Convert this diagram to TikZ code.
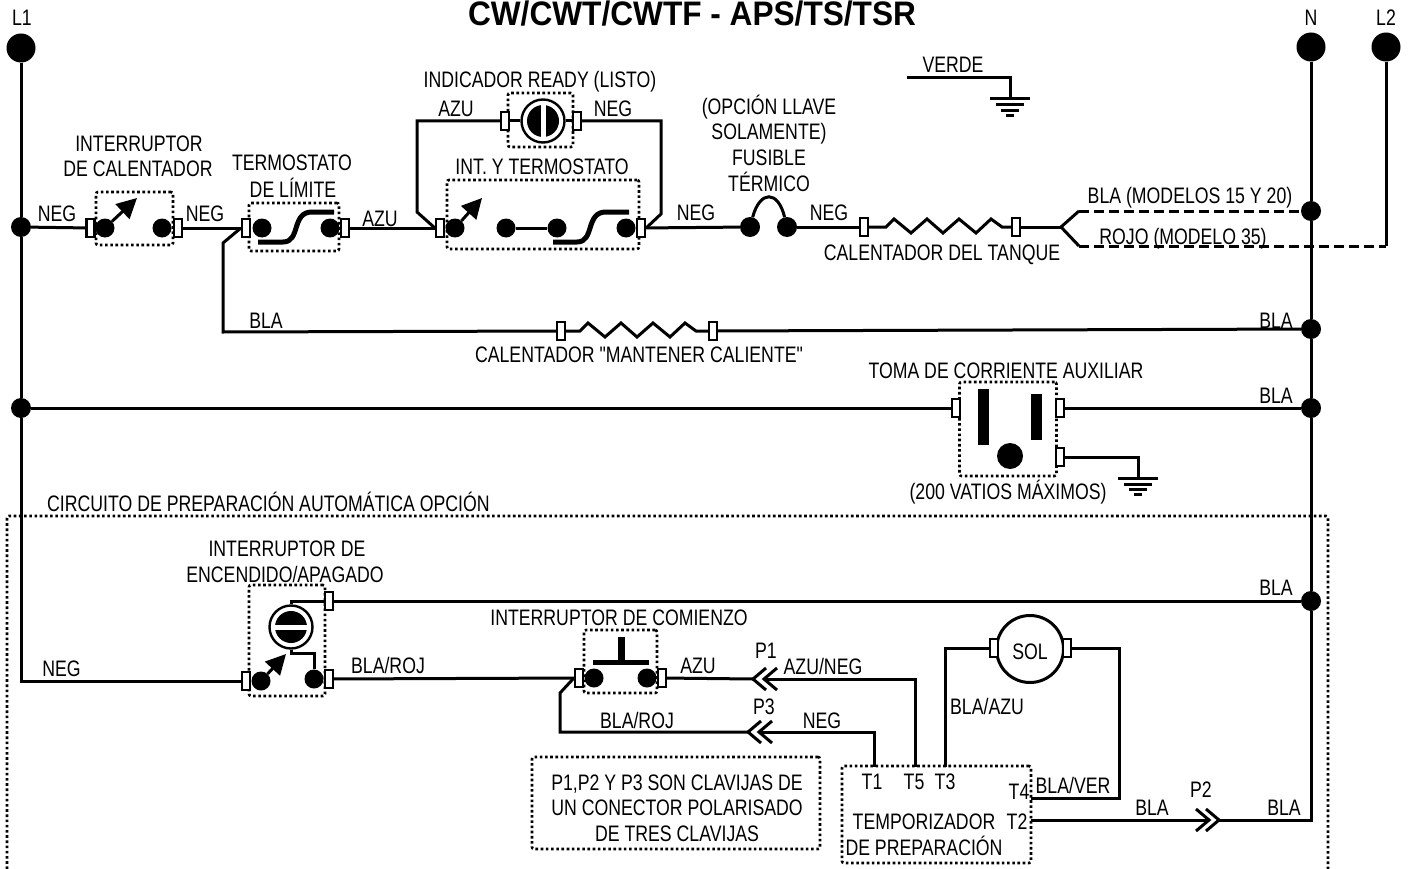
\documentclass[tikz,border=0pt]{standalone}
\usepackage{fontspec}
\newfontfamily\narrowfont{Liberation Sans}[FakeStretch=0.79]
\newfontfamily\titlefont{Liberation Sans}[FakeStretch=0.93]
\usetikzlibrary{arrows.meta}
\begin{document}
\begin{tikzpicture}[x=1pt,y=-1pt]
\tikzstyle{stream}=[inner sep=0pt,anchor=base,font=\narrowfont\fontsize{22.4}{25}\selectfont]
\tikzstyle{headline}=[inner sep=0pt,anchor=base,font=\titlefont\fontsize{34}{36}\selectfont\bfseries]
\tikzstyle{recti}=[rectangle,draw,line width=2.6pt,dash pattern=on 2.6pt off 2.6pt,rounded corners=2pt,inner sep=0pt]
\tikzstyle{wire}=[line width=3pt]
\tikzstyle{broken}=[line width=3pt,dash pattern=on 10pt off 5pt]
\tikzstyle{plug}=[line width=3pt]
\tikzstyle{thermo}=[line width=5pt]
\tikzstyle{dial}=[line width=3pt,-{Triangle[length=20pt,width=20pt]}]
\tikzstyle{railend}=[circle,fill=black,inner sep=0pt,minimum size=29]
\tikzstyle{busdot}=[circle,fill=black,inner sep=0pt,minimum size=20]
\tikzstyle{contact}=[circle,fill=black,inner sep=0pt,minimum size=19]
\tikzstyle{term}=[rectangle,draw,fill=white,line width=2.2pt,inner sep=0pt,minimum width=8,minimum height=18]
\tikzstyle{lamp}=[circle,draw,fill=white,line width=2.4pt,inner sep=0pt,minimum size=43]
\tikzstyle{coil}=[circle,draw,fill=white,line width=3pt,inner sep=0pt,minimum size=67]
\useasboundingbox (0,0) rectangle (1412,869);

\node [headline] (title) at (692,25.5) {CW/CWT/CWTF - APS/TS/TSR};
\node [stream] (labelLone) at (22,26) {L1};
\node [stream] (labelN) at (1311,26) {N};
\node [stream] (labelLtwo) at (1386,26) {L2};
\node [stream] (verde) at (953,73) {VERDE};
\node [stream] (negA) at (57,221) {NEG};
\node [stream] (negB) at (205,221) {NEG};
\node [stream] (azuA) at (380,226) {AZU};
\node [stream] (heatA) at (139,152) {INTERRUPTOR};
\node [stream] (heatB) at (138,177) {DE CALENTADOR};
\node [stream] (limitA) at (292,171) {TERMOSTATO};
\node [stream] (limitB) at (293,197) {DE LÍMITE};
\node [stream] (ready) at (540,88) {INDICADOR READY (LISTO)};
\node [stream] (azuB) at (456,117) {AZU};
\node [stream] (negC) at (613,117) {NEG};
\node [stream] (intT) at (542,175) {INT. Y TERMOSTATO};
\node [stream] (fuseA) at (769,115) {(OPCIÓN LLAVE};
\node [stream] (fuseB) at (769,140) {SOLAMENTE)};
\node [stream] (fuseC) at (769,166) {FUSIBLE};
\node [stream] (fuseD) at (769,191) {TÉRMICO};
\node [stream] (negD) at (696,220) {NEG};
\node [stream] (negE) at (829,220) {NEG};
\node [stream] (tank) at (942,260) {CALENTADOR DEL TANQUE};
\node [stream] (modelA) at (1190,204) {BLA (MODELOS 15 Y 20)};
\node [stream] (modelB) at (1183,244) {ROJO (MODELO 35)};
\node [stream] (blaA) at (266,328) {BLA};
\node [stream] (blaB) at (1276,328) {BLA};
\node [stream] (keep) at (639,362) {CALENTADOR "MANTENER CALIENTE"};
\node [stream] (toma) at (1006,378) {TOMA DE CORRIENTE AUXILIAR};
\node [stream] (blaC) at (1276,403) {BLA};
\node [stream] (vatios) at (1008,499) {(200 VATIOS MÁXIMOS)};
\node [stream,anchor=base west] (circuit) at (47,511) {CIRCUITO DE PREPARACIÓN AUTOMÁTICA OPCIÓN};
\node [stream] (onA) at (287,556) {INTERRUPTOR DE};
\node [stream] (onB) at (285,582) {ENCENDIDO/APAGADO};
\node [stream] (blaD) at (1276,595) {BLA};
\node [stream] (negF) at (61.5,676) {NEG};
\node [stream] (blaRojA) at (388,673) {BLA/ROJ};
\node [stream] (startA) at (619,625) {INTERRUPTOR DE COMIENZO};
\node [stream] (azuC) at (698,673) {AZU};
\node [stream] (pOneL) at (766,658) {P1};
\node [stream] (azuNeg) at (823,674) {AZU/NEG};
\node [stream] (blaRojB) at (637,728) {BLA/ROJ};
\node [stream] (pThreeL) at (764,714) {P3};
\node [stream] (negG) at (822,728) {NEG};
\node [stream] (blaAzu) at (987,714) {BLA/AZU};
\node [stream] (noteA) at (677,790) {P1,P2 Y P3 SON CLAVIJAS DE};
\node [stream] (noteB) at (677,815) {UN CONECTOR POLARISADO};
\node [stream] (noteC) at (677,841) {DE TRES CLAVIJAS};
\node [stream] (tOneL) at (872,789) {T1};
\node [stream] (tFiveL) at (914,789) {T5};
\node [stream] (tThreeL) at (945,789) {T3};
\node [stream] (tFourL) at (1019,799) {T4};
\node [stream] (tTwoL) at (1017,829) {T2};
\node [stream] (timerA) at (924,829) {TEMPORIZADOR};
\node [stream] (timerB) at (924,855) {DE PREPARACIÓN};
\node [stream] (blaVer) at (1073,793) {BLA/VER};
\node [stream] (blaE) at (1152,815) {BLA};
\node [stream] (pTwoL) at (1201,797) {P2};
\node [stream] (blaF) at (1284,815) {BLA};

\draw [recti] (7,869) -- (7,516) -- (1328,516) -- (1328,869);
\node [recti,minimum width=77,minimum height=53] (boxHeat) at (134.5,218.5) {};
\node [recti,minimum width=90,minimum height=48] (boxLimit) at (294,227) {};
\node [recti,minimum width=65,minimum height=54] (boxReady) at (540.5,120) {};
\node [recti,minimum width=192,minimum height=69] (boxInt) at (543,214.5) {};
\node [recti,minimum width=97,minimum height=94] (boxToma) at (1008,429) {};
\node [recti,minimum width=76,minimum height=111] (boxOn) at (287,640.5) {};
\node [recti,minimum width=73,minimum height=63] (boxStart) at (620.5,661.5) {};
\node [recti,minimum width=288,minimum height=92] (boxNote) at (676,803) {};
\node [recti,minimum width=189,minimum height=97] (boxTimer) at (936.5,814.5) {};

\node [railend] (railLone) at (21,48) {};
\node [railend] (railN) at (1311,47) {};
\node [railend] (railLtwo) at (1386,47) {};
\node [busdot] (dotLoneA) at (21,227) {};
\node [busdot] (dotLoneB) at (21,408) {};
\node [busdot] (dotNa) at (1311,211) {};
\node [busdot] (dotNb) at (1311,329) {};
\node [busdot] (dotNc) at (1311,408) {};
\node [busdot] (dotNd) at (1311,601) {};

\node [contact] (conHeatL) at (105,228) {};
\node [contact] (conHeatR) at (162,228) {};
\node [contact] (conLimitL) at (262,228) {};
\node [contact] (conLimitR) at (330,228) {};
\node [contact] (conIntA) at (455,228) {};
\node [contact] (conIntB) at (506,228) {};
\node [contact] (conIntC) at (557,228) {};
\node [contact] (conIntD) at (626,228) {};
\node [busdot] (conFuseL) at (750,227) {};
\node [busdot] (conFuseR) at (787,227) {};
\node [contact] (conOnL) at (261,681) {};
\node [contact] (conOnR) at (314,679) {};
\node [contact] (conStartL) at (594,678) {};
\node [contact] (conStartR) at (647,678) {};

\node [term] (termHeatL) at (90.5,228) {};
\node [term] (termHeatR) at (178,228) {};
\node [term] (termLimitL) at (246,228) {};
\node [term] (termLimitR) at (345,228) {};
\node [term] (termIntL) at (440,228) {};
\node [term] (termIntR) at (641,228) {};
\node [term] (termReadyL) at (505,121) {};
\node [term] (termReadyR) at (577,121) {};
\node [term] (termTankL) at (864,227) {};
\node [term] (termTankR) at (1016,227) {};
\node [term] (termKeepL) at (561,331) {};
\node [term] (termKeepR) at (713,331) {};
\node [term] (termTomaL) at (956,408) {};
\node [term] (termTomaR) at (1060,408) {};
\node [term] (termTomaG) at (1060,457) {};
\node [term] (termOnT) at (329,601) {};
\node [term] (termOnL) at (246,681) {};
\node [term] (termOnR) at (329,679) {};
\node [term] (termStartL) at (579,678) {};
\node [term] (termStartR) at (662,678) {};
\node [lamp] (lampReady) at (543,121) {};
\node [lamp] (lampOn) at (291,627) {};
\node [coil] (solenoid) at (1030,649) {};
\node [stream] (solLabel) at (1030,659) {SOL};
\node [term] (termSolL) at (994,648) {};
\node [term] (termSolR) at (1067,648) {};

\coordinate (tipHeat) at (137,198);
\coordinate (tipInt) at (482,198);
\coordinate (tipOn) at (286,654);
\coordinate (branchA) at (223,243);
\coordinate (branchB) at (223,332);
\coordinate (readyA) at (417,121);
\coordinate (readyB) at (417,212);
\coordinate (readyC) at (661,121);
\coordinate (readyD) at (661,214);
\coordinate (forkO) at (1061,227);
\coordinate (forkA) at (1079,211);
\coordinate (forkB) at (1079,246);
\coordinate (cornerLtwo) at (1386,246);
\coordinate (greenA) at (907,78);
\coordinate (greenB) at (1010,78);
\coordinate (greenC) at (1010,99);
\coordinate (earthA) at (1138,457);
\coordinate (earthB) at (1138,478);
\coordinate (cornerNeg) at (21,681);
\coordinate (startA) at (560,693);
\coordinate (startB) at (560,732);
\coordinate (pOne) at (753,679);
\coordinate (pOneB) at (764,679);
\coordinate (pThree) at (748,732);
\coordinate (pThreeB) at (759,732);
\coordinate (pTwo) at (1209,820);
\coordinate (pTwoB) at (1219,820);
\coordinate (tFiveA) at (915,679);
\coordinate (tFiveB) at (915,767);
\coordinate (tOneA) at (874,732);
\coordinate (tOneB) at (874,767);
\coordinate (tThreeA) at (945,648);
\coordinate (tThreeB) at (945,767);
\coordinate (tFourA) at (1031,798);
\coordinate (tFourB) at (1119,798);
\coordinate (tFourC) at (1119,648);
\coordinate (tTwoA) at (1031,820);
\coordinate (cornerN) at (1311,820);

\draw [wire] (railLone) -- (dotLoneA) -- (dotLoneB) -- (cornerNeg) -- (termOnL);
\draw [wire] (railN) -- (dotNa) -- (dotNb) -- (dotNc) -- (dotNd) -- (cornerN) -- (pTwoB);
\draw [wire] (railLtwo) -- (cornerLtwo);
\draw [wire] (dotLoneA) -- (termHeatL);
\draw [wire] (termHeatR) -- (termLimitL);
\draw [wire] (termLimitL.west) -- (branchA) -- (branchB) -- (termKeepL);
\draw [wire] (termLimitR) -- (termIntL);
\draw [wire] (termIntR) -- (conFuseL);
\draw [wire] (conIntB) -- (conIntC);
\draw [wire] (conFuseL) .. controls (760,190) and (778,190) .. (conFuseR);
\draw [wire] (conFuseR) -- (termTankL);
\draw [wire] (termReadyL) -- (lampReady);
\draw [wire] (termReadyR) -- (lampReady);
\draw [wire] (termReadyL) -- (readyA) -- (readyB) -- (termIntL.west);
\draw [wire] (termReadyR) -- (readyC) -- (readyD) -- (termIntR.east);
\draw [wire] (termTankL) -- (886,227) -- ++(8,-8) -- ++(17,14) -- ++(16,-14) -- ++(16,14) -- ++(16,-14) -- ++(17,14) -- ++(15,-14) -- ++(11,8) -- (termTankR);
\draw [wire] (termTankR) -- (forkO);
\draw [wire] (forkA) -- (forkO) -- (forkB);
\draw [broken] (forkA) -- (dotNa);
\draw [broken] (forkB) -- (cornerLtwo);
\draw [wire] (termKeepL) -- (580,331) -- ++(8,-8) -- ++(17,14) -- ++(16,-14) -- ++(16,14) -- ++(16,-14) -- ++(17,14) -- ++(15,-14) -- ++(11,8) -- (termKeepR);
\draw [wire] (termKeepR) -- (dotNb);
\draw [wire] (dotLoneB) -- (termTomaL);
\draw [wire] (termTomaR) -- (dotNc);
\draw [wire] (termTomaG) -- (earthA) -- (earthB);
\draw [wire] (greenA) -- (greenB) -- (greenC);
\draw [wire] (termOnT) -- (dotNd);
\draw [wire] (lampOn.north) |- (termOnT.west);
\draw [wire] (lampOn.south) -- ++(0,4) -| (conOnR);
\draw [wire] (termOnR) -- (termStartL);
\draw [wire] (termStartL.west) -- (startA) -- (startB) -- (pThree);
\draw [wire] (termStartR) -- (pOne);
\draw [wire] (pOneB) -- (tFiveA) -- (tFiveB);
\draw [wire] (pThreeB) -- (tOneA) -- (tOneB);
\draw [wire] (termSolL) -- (tThreeA) -- (tThreeB);
\draw [wire] (termSolR) -- (tFourC) -- (tFourB) -- (tFourA);
\draw [wire] (tTwoA) -- (pTwo);

\draw [plug] (pOne) +(13,-11) -- (pOne) -- +(13,11);
\draw [plug] (pOneB) +(13,-11) -- (pOneB) -- +(13,11);
\draw [plug] (pThree) +(13,-11) -- (pThree) -- +(13,11);
\draw [plug] (pThreeB) +(13,-11) -- (pThreeB) -- +(13,11);
\draw [plug] (pTwo) +(-13,-11) -- (pTwo) -- +(-13,11);
\draw [plug] (pTwoB) +(-13,-11) -- (pTwoB) -- +(-13,11);

\draw [dial] (conHeatL) -- (tipHeat);
\draw [dial] (conIntA) -- (tipInt);
\draw [dial] (conOnL) -- (tipOn);
\draw [thermo] (258,242) -- (283,242) .. controls (301,242) and (291,212) .. (312,212) -- (334,212);
\draw [thermo] (553,242) -- (577,242) .. controls (595,242) and (585,212) .. (606,212) -- (629,212);

\fill (lampReady) circle (16);
\fill [white] (540.5,103) rectangle (545.5,139);
\fill (lampOn) circle (16);
\fill [white] (273,624.5) rectangle (309,629.5);

\fill (978,389) rectangle (989,445);
\fill (1031,394) rectangle (1042,440);
\fill (1010,456) circle (13);
\draw [thermo] (593,662) -- (649,662);
\fill (617.5,637) rectangle (624.5,662);

\draw [wire] (990,99) -- (1030,99);
\draw [wire] (996,105) -- (1024,105);
\draw [wire] (1001,111) -- (1019,111);
\draw [wire] (1006,116) -- (1014,116);
\draw [wire] (1118,478) -- (1158,478);
\draw [wire] (1124,484) -- (1152,484);
\draw [wire] (1129,489) -- (1147,489);
\draw [wire] (1134,494) -- (1142,494);
\end{tikzpicture}
\end{document}
